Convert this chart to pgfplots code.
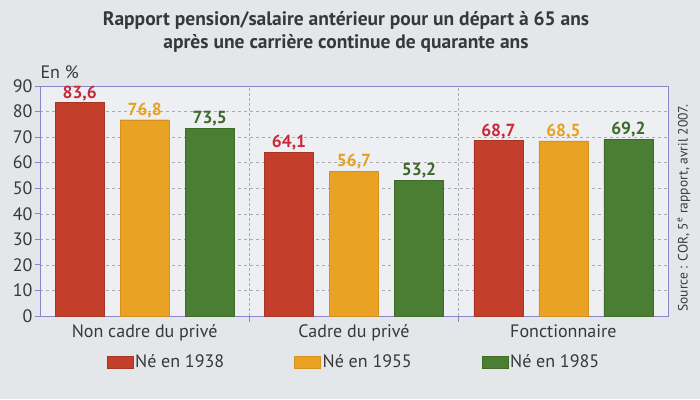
\documentclass[border=0pt]{standalone}
\usepackage{fontspec}
\setmainfont{PT Sans}
\usepackage{pgfplots}
\pgfplotsset{compat=1.18}
\definecolor{bgc}{RGB}{228,231,234}
\definecolor{plotbg}{RGB}{238,239,243}
\definecolor{axc}{RGB}{140,134,200}
\definecolor{gridc}{RGB}{170,170,180}
\definecolor{cred}{RGB}{196,62,44}
\definecolor{corange}{RGB}{234,162,36}
\definecolor{cgreen}{RGB}{74,126,50}
\definecolor{tred}{RGB}{200,40,58}
\definecolor{torange}{RGB}{232,160,30}
\definecolor{tgreen}{RGB}{60,105,40}
\definecolor{txt}{RGB}{55,55,60}
\begin{document}
\begin{tikzpicture}[x=1pt,y=1pt]
\fill[bgc] (0,0) rectangle (700,399);
\node[text=txt,font=\fontsize{19.5}{22.5}\selectfont\bfseries,align=center] at (346,367) {Rapport pension/salaire antérieur pour un départ à 65 ans\\après une carrière continue de quarante ans};
\node[text=txt,font=\fontsize{18}{20}\selectfont,anchor=west] at (37,327) {En \%};
\node[text=txt,font=\fontsize{13.5}{15}\selectfont,rotate=90] at (684,191) {Source : COR, 5\textsuperscript{e} rapport, avril 2007.};
\begin{axis}[
  at={(40pt,83pt)}, anchor=south west,
  scale only axis, width=628pt, height=230pt,
  xmin=-0.5, xmax=2.5, ymin=0, ymax=90,
  ybar=16pt, bar width=49pt,
  axis background/.style={fill=plotbg},
  axis line style={axc, line width=0.8pt},
  ytick={0,10,...,90},
  ymajorgrids, major grid style={gridc, dashed, line width=0.5pt},
  xtick={0,1,2},
  xticklabels={Non cadre du privé, Cadre du privé, Fonctionnaire},
  minor xtick={0.5,1.5},
  xminorgrids, minor grid style={gridc, densely dashed, line width=0.5pt},
  major x tick style={draw=none},
  minor x tick style={axc, line width=0.8pt},
  minor tick length=6pt,
  y tick style={axc, line width=0.8pt},
  major tick length=5pt,
  tick align=outside,
  tick pos=left,
  ticklabel style={text=txt, font=\fontsize{18}{20}\selectfont},
  yticklabel style={xshift=1pt},
  /pgf/number format/assume math mode=true,
  nodes near coords={\pgfmathprintnumber[fixed,fixed zerofill,precision=1,use comma]{\pgfplotspointmeta}},
  nodes near coords style={font=\fontsize{17.5}{20}\selectfont\bfseries, inner sep=1.5pt},
  legend columns=3,
  legend style={at={(0.5,0)}, anchor=center, yshift=-46pt, draw=none, fill=none,
    font=\fontsize{18}{20}\selectfont, text=txt,
    /tikz/every even column/.append style={column sep=68pt}},
  legend image code/.code={\fill[#1] (0pt,-6pt) rectangle (26pt,6pt);},
]
\addplot[fill=cred, draw=cred!85!black, every node near coord/.append style={text=tred}] coordinates {(0,83.6) (1,64.1) (2,68.7)};
\addplot[fill=corange, draw=corange!90!black, every node near coord/.append style={text=torange}] coordinates {(0,76.8) (1,56.7) (2,68.5)};
\addplot[fill=cgreen, draw=cgreen!85!black, every node near coord/.append style={text=tgreen}] coordinates {(0,73.5) (1,53.2) (2,69.2)};
\legend{Né en 1938, Né en 1955, Né en 1985}
\end{axis}
\end{tikzpicture}
\end{document}
